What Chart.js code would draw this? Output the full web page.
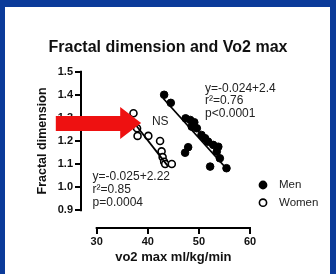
<!DOCTYPE html>
<html>
<head>
<meta charset="utf-8">
<script src="https://cdn.jsdelivr.net/npm/chart.js@4.4.1/dist/chart.umd.min.js"></script>
<style>
  html, body { margin: 0; padding: 0; background: #fff; }
</style>
</head>
<body>
<canvas id="graphic-fractalVo2" width="336" height="274"></canvas>
<script>
const dataGraphicFractal = document.getElementById('graphic-fractalVo2');

const chartTitle = 'Fractal dimension and Vo2 max';
const xTitle = 'vo2 max ml/kg/min';
const yTitle = 'Fractal dimension';
const xTicks = [30, 40, 50, 60];
const yTicks = [0.9, 1.0, 1.1, 1.2, 1.3, 1.4, 1.5];

const menVo2 = [43.2, 44.5, 47.4, 48.3, 49.1, 48.6, 49.6, 50.5, 51.2, 47.3, 47.9, 51.8, 52.8, 53.8, 53.5, 54.1, 52.2, 55.4];
const menFd  = [1.40, 1.365, 1.298, 1.291, 1.281, 1.262, 1.255, 1.226, 1.212, 1.149, 1.173, 1.197, 1.183, 1.175, 1.154, 1.125, 1.089, 1.082];

const womenVo2 = [37.2, 37.9, 38.0, 40.1, 42.4, 42.7, 42.9, 43.2, 43.4, 44.7];
const womenFd  = [1.32, 1.255, 1.222, 1.222, 1.20, 1.155, 1.13, 1.11, 1.10, 1.10];

// regression lines (end points)
const menFitX = [43.0, 55.2];
const menFitY = [1.385, 1.085];
const womenFitX = [37.8, 43.9];
const womenFitY = [1.265, 1.092];

const menStats = ['y=-0.024+2.4', 'r\u00b2=0.76', 'p<0.0001'];
const womenStats = ['y=-0.025+2.22', 'r\u00b2=0.85', 'p=0.0004'];
const nsLabel = 'NS';

const fontFamily = 'Arial, "Liberation Sans", sans-serif';

function toPoints(xs, ys) {
    return xs.map((x, i) => ({ x: x, y: ys[i] }));
}

const prismAxes = {
    id: 'prismAxes',
    beforeDraw(chart) {
        const ctx = chart.ctx;
        ctx.save();
        ctx.fillStyle = '#fff';
        ctx.fillRect(0, 0, chart.width, chart.height);
        ctx.fillStyle = '#0b3b9a';
        ctx.fillRect(0, 0, chart.width, 7);
        ctx.fillRect(0, 0, 5, chart.height);
        ctx.fillRect(chart.width - 6, 0, 6, chart.height);
        ctx.restore();
    },
    afterDatasetsDraw(chart) {
        const ctx = chart.ctx;
        const x = chart.scales.x;
        const y = chart.scales.y;
        const area = chart.chartArea;
        ctx.save();
        ctx.strokeStyle = '#000';
        ctx.lineWidth = 2;
        ctx.beginPath();
        ctx.moveTo(area.left, y.getPixelForValue(yTicks[yTicks.length - 1]) - 1);
        ctx.lineTo(area.left, y.getPixelForValue(yTicks[0]) + 1);
        ctx.moveTo(x.getPixelForValue(xTicks[0]) - 1, area.bottom);
        ctx.lineTo(x.getPixelForValue(xTicks[xTicks.length - 1]) + 1, area.bottom);
        ctx.stroke();

        // axis titles, centred on the axis lines
        ctx.fillStyle = '#111';
        ctx.textAlign = 'center';
        ctx.textBaseline = 'middle';
        ctx.font = 'bold 13px ' + fontFamily;
        ctx.fillText(xTitle, (x.getPixelForValue(xTicks[0]) + x.getPixelForValue(xTicks[xTicks.length - 1])) / 2, 257);
        ctx.save();
        ctx.translate(43, (y.getPixelForValue(yTicks[0]) + y.getPixelForValue(yTicks[yTicks.length - 1])) / 2);
        ctx.rotate(-Math.PI / 2);
        ctx.font = 'bold 12.5px ' + fontFamily;
        ctx.fillText(yTitle, 0, 0);
        ctx.restore();

        // stats text
        ctx.fillStyle = '#222';
        ctx.textAlign = 'left';
        ctx.font = '12px ' + fontFamily;
        menStats.forEach((t, i) => {
            ctx.fillText(t, x.getPixelForValue(51.2), y.getPixelForValue(1.428) + i * 12.5);
        });
        womenStats.forEach((t, i) => {
            ctx.fillText(t, x.getPixelForValue(29.2), y.getPixelForValue(1.045) + i * 13);
        });
        ctx.fillText(nsLabel, x.getPixelForValue(40.8), y.getPixelForValue(1.284));

        // legend
        ctx.font = '11.5px ' + fontFamily;
        chart.data.datasets.slice(0, 2).forEach((ds, i) => {
            const cy = 185 + i * 17.7;
            ctx.beginPath();
            ctx.arc(area.right + 13, cy, 3.6, 0, Math.PI * 2);
            ctx.fillStyle = ds.backgroundColor;
            ctx.fill();
            ctx.lineWidth = 1.6;
            ctx.strokeStyle = '#000';
            ctx.stroke();
            ctx.fillStyle = '#222';
            ctx.fillText(ds.label, area.right + 29, cy);
        });
        ctx.restore();
    },
    afterDraw(chart) {
        // red arrow pointing at the women's data
        const ctx = chart.ctx;
        const x = chart.scales.x;
        const y = chart.scales.y;
        const tail = x.getPixelForValue(22.0);
        const neck = x.getPixelForValue(34.6);
        const tip = x.getPixelForValue(38.7);
        ctx.save();
        ctx.fillStyle = '#ee1111';
        ctx.beginPath();
        ctx.moveTo(tail, y.getPixelForValue(1.308));
        ctx.lineTo(neck, y.getPixelForValue(1.308));
        ctx.lineTo(neck, y.getPixelForValue(1.347));
        ctx.lineTo(tip, y.getPixelForValue(1.278));
        ctx.lineTo(neck, y.getPixelForValue(1.209));
        ctx.lineTo(neck, y.getPixelForValue(1.243));
        ctx.lineTo(tail, y.getPixelForValue(1.243));
        ctx.closePath();
        ctx.fill();
        ctx.restore();
    }
};

new Chart(dataGraphicFractal, {
    type: 'scatter',
    data: {
        datasets: [{
            label: 'Men',
            data: toPoints(menVo2, menFd),
            backgroundColor: '#000',
            borderColor: '#000',
            pointRadius: 3.8,
            borderWidth: 1,
            order: 1
        }, {
            label: 'Women',
            data: toPoints(womenVo2, womenFd),
            backgroundColor: '#fff',
            borderColor: '#000',
            pointRadius: 3.5,
            borderWidth: 1.6,
            order: 1
        }, {
            type: 'line',
            label: 'Men fit',
            data: toPoints(menFitX, menFitY),
            borderColor: '#000',
            borderWidth: 1.8,
            pointRadius: 0,
            order: 0
        }, {
            type: 'line',
            label: 'Women fit',
            data: toPoints(womenFitX, womenFitY),
            borderColor: '#000',
            borderWidth: 1.8,
            pointRadius: 0,
            order: 0
        }]
    },
    options: {
        responsive: false,
        maintainAspectRatio: false,
        animation: false,
        layout: {
            padding: 0
        },
        scales: {
            x: {
                type: 'linear',
                min: 26.93,
                max: 60,
                afterBuildTicks: (scale) => { scale.ticks = xTicks.map(v => ({ value: v })); },
                afterFit: (scale) => { scale.height = 46; },
                grid: { display: true, drawOnChartArea: false, tickLength: 6, lineWidth: 2, color: '#000' },
                border: { display: false },
                ticks: {
                    padding: 1,
                    color: '#111',
                    font: { family: fontFamily, size: 11, weight: 'bold' }
                }
            },
            y: {
                min: 0.823,
                max: 1.5,
                afterBuildTicks: (scale) => { scale.ticks = yTicks.map(v => ({ value: v })); },
                afterFit: (scale) => { scale.width = 81; },
                grid: { display: true, drawOnChartArea: false, tickLength: 6, lineWidth: 2, color: '#000' },
                border: { display: false },
                ticks: {
                    padding: 2,
                    color: '#111',
                    font: { family: fontFamily, size: 11, weight: 'bold' },
                    callback: function (value) {
                        return value.toFixed(1);
                    }
                }
            },
            // empty right-hand axis that only reserves room for the legend
            yRight: {
                position: 'right',
                afterFit: (scale) => { scale.width = 86; },
                grid: { display: false },
                border: { display: false },
                ticks: { display: false }
            }
        },
        plugins: {
            legend: { display: false },
            tooltip: { enabled: false },
            title: {
                display: true,
                text: chartTitle,
                color: '#111',
                font: { family: fontFamily, size: 16, weight: 'bold' },
                padding: { top: 38.4, bottom: 14.1 }
            }
        }
    },
    plugins: [prismAxes]
});
</script>
</body>
</html>
